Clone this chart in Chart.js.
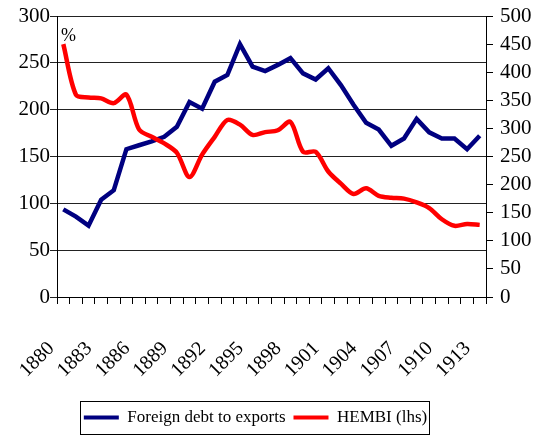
<!DOCTYPE html>
<html>
<head>
<meta charset="utf-8">
<script src="https://cdn.jsdelivr.net/npm/chart.js@4.4.1/dist/chart.umd.min.js"></script>
<style>
  html, body { margin: 0; padding: 0; background: #fff; }
  #wrap { width: 537px; height: 436px; }
</style>
</head>
<body>
<div id="wrap"><canvas id="chart" width="537" height="436"></canvas></div>
<script>
// years on the category axis
const years = [
  '1880', '1881', '1882', '1883', '1884', '1885', '1886', '1887', '1888', '1889',
  '1890', '1891', '1892', '1893', '1894', '1895', '1896', '1897', '1898', '1899',
  '1900', '1901', '1902', '1903', '1904', '1905', '1906', '1907', '1908', '1909',
  '1910', '1911', '1912', '1913'
];

// blue series, read against the right-hand scale (0-500)
const foreignDebtToExports = [
  156, 143, 127, 173, 190, 263, 270, 277, 285, 303,
  347, 335, 383, 395, 450, 410, 402, 413, 425, 398,
  387, 407, 377, 342, 310, 298, 269, 282, 317, 293,
  282, 282, 263, 287
];

// red series, left-hand scale (0-300)
const hembi = [
  270, 216, 213, 212, 207, 216, 179, 171, 164, 154,
  128, 152, 171, 189, 184, 173, 176, 178, 187, 155,
  155, 134, 121, 110, 116, 108, 106, 105, 101, 95,
  83, 76, 78, 77
];

const leftTicks = [0, 50, 100, 150, 200, 250, 300];
const rightTicks = [0, 50, 100, 150, 200, 250, 300, 350, 400, 450, 500];

const serif = '"Liberation Serif", "Times New Roman", serif';

// little "%" note in the top left corner of the plot + box round the legend
const extras = {
  id: 'extras',
  afterLayout(chart) {
    // legend sits a bit left of centre in the original
    chart.legend.left -= 13;
    chart.legend.right -= 13;
  },
  afterDraw(chart) {
    const ctx = chart.ctx;
    const area = chart.chartArea;
    ctx.save();
    ctx.fillStyle = '#000';
    ctx.font = '18px ' + serif;
    ctx.textBaseline = 'top';
    ctx.fillText('%', area.left + 4, area.top + 11);

    const boxes = chart.legend.legendHitBoxes;
    if (boxes && boxes.length) {
      const first = boxes[0];
      const last = boxes[boxes.length - 1];
      const x0 = first.left - 4;
      const x1 = last.left + last.width + 2;
      const y0 = first.top - 8;
      const y1 = first.top + first.height + 8;
      ctx.strokeStyle = '#000';
      ctx.lineWidth = 1;
      ctx.strokeRect(Math.round(x0) + 0.5, Math.round(y0) + 0.5, Math.round(x1 - x0), Math.round(y1 - y0));
    }
    ctx.restore();
  }
};

new Chart(document.getElementById('chart'), {
  type: 'line',
  data: {
    labels: years,
    datasets: [
      {
        label: 'Foreign debt to exports',
        data: foreignDebtToExports,
        yAxisID: 'y1',
        borderColor: '#000080',
        backgroundColor: '#000080',
        borderWidth: 4.5,
        pointRadius: 0,
        tension: 0,
        order: 2
      },
      {
        label: 'HEMBI (lhs)',
        data: hembi,
        yAxisID: 'y',
        borderColor: '#ff0000',
        backgroundColor: '#ff0000',
        borderWidth: 4.5,
        pointRadius: 0,
        tension: 0.3,
        order: 1
      }
    ]
  },
  options: {
    responsive: false,
    animation: false,
    layout: { padding: { top: 16, left: 0, right: 0, bottom: 0 } },
    plugins: {
      tooltip: { enabled: false },
      legend: {
        position: 'bottom',
        labels: {
          color: '#000',
          font: { family: serif, size: 17 },
          boxWidth: 35,
          boxHeight: 4,
          padding: 8,
          generateLabels(chart) {
            return chart.data.datasets.map((ds, i) => ({
              text: ds.label,
              fillStyle: ds.borderColor,
              strokeStyle: ds.borderColor,
              lineWidth: 0,
              hidden: false,
              datasetIndex: i
            }));
          }
        }
      }
    },
    scales: {
      x: {
        type: 'category',
        offset: true,
        grid: {
          offset: true,
          drawOnChartArea: false,
          drawTicks: true,
          tickLength: 7,
          color: '#000'
        },
        border: { color: '#000', width: 1 },
        ticks: {
          autoSkip: false,
          maxRotation: 45,
          minRotation: 45,
          labelOffset: -12,
          padding: 33,
          color: '#000',
          font: { family: serif, size: 20 },
          callback(value, index) {
            return index % 3 === 0 ? years[index] : '';
          }
        },
        afterFit(scale) { scale.height = 104; }
      },
      y: {
        position: 'left',
        min: 0,
        max: 300,
        afterBuildTicks(scale) { scale.ticks = leftTicks.map(v => ({ value: v })); },
        grid: {
          color: '#222',
          lineWidth: 1,
          tickLength: 7,
          drawTicks: true
        },
        border: { color: '#000', width: 1 },
        ticks: {
          autoSkip: false,
          padding: 0,
          color: '#000',
          font: { family: serif, size: 21, lineHeight: 0.8 }
        },
        afterFit(scale) { scale.width = 57; }
      },
      y1: {
        position: 'right',
        min: 0,
        max: 500,
        afterBuildTicks(scale) { scale.ticks = rightTicks.map(v => ({ value: v })); },
        grid: {
          drawOnChartArea: false,
          color: '#000',
          tickLength: 7,
          drawTicks: true
        },
        border: { color: '#000', width: 1 },
        ticks: {
          autoSkip: false,
          padding: 7,
          color: '#000',
          font: { family: serif, size: 21, lineHeight: 0.8 }
        },
        afterFit(scale) { scale.width = 51; }
      }
    }
  },
  plugins: [extras]
});
</script>
</body>
</html>
